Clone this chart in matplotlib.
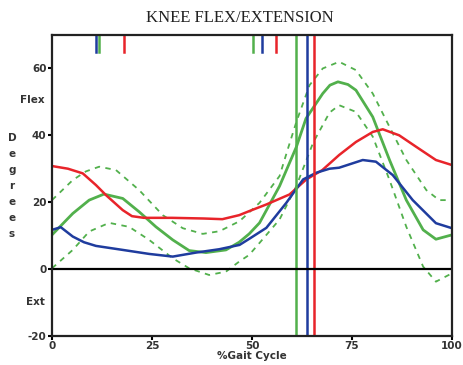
import matplotlib
matplotlib.use('Agg')
import matplotlib.pyplot as plt

plt.rcParams['axes.unicode_minus'] = False

# Colours of the three traces
RED = '#e8242a'
BLUE = '#1f3c9e'
GREEN = '#52b04c'

# Left side (red) knee angle over the gait cycle
red_x = [0, 4, 7.7, 11, 13.5, 17.7, 20, 23, 30, 38, 42.6, 46.8, 49.3, 53.6,
         59.4, 63.6, 67.6, 71.8, 76, 80.2, 82.7, 86.8, 91, 96, 100]
red_y = [30.8, 30, 28.6, 25.1, 22.1, 17.6, 15.8, 15.3, 15.3, 15.1, 14.9, 16.1, 17.3, 19.3,
         22.3, 26.8, 29.6, 34.1, 38, 41, 41.8, 40, 36.6, 32.6, 31.1]

# Right side (blue)
blue_x = [0, 2.2, 5.2, 8, 11, 17.7, 24.3, 30.2, 36, 41.8, 46.9, 49.3, 53.6, 58.6,
          62.8, 66.1, 69.4, 71.8, 77.7, 81, 85.2, 90.2, 96, 100]
blue_y = [11.7, 12.5, 9.7, 8, 6.9, 5.7, 4.5, 3.7, 4.9, 5.9, 7.2, 9, 12.3, 19.8,
          26.8, 28.8, 30, 30.3, 32.6, 32.1, 28.1, 20.6, 13.7, 12.2]

# Normal mean (green solid)
norm_x = [0, 5.2, 9.3, 13, 17.7, 21.8, 26, 30.2, 34.3, 38.5, 43.5, 46.8, 49.3, 51.9,
          56.9, 61.1, 63.5, 67.7, 69.5, 71.5, 74, 76, 80.2, 84.4, 88.6, 92.8, 96, 100]
norm_y = [10.2, 16.6, 20.6, 22.4, 21.1, 17.1, 12.6, 8.7, 5.5, 4.9, 5.7, 8, 10.5, 13.8,
          24.8, 36.5, 45, 52.5, 55, 56, 55.2, 53.5, 45.5, 32.6, 20.6, 11.7, 8.9, 10.2]

# Normal band, upper and lower (green dashed)
upper_x = [0, 5.2, 8.5, 11.8, 16, 21.8, 27.7, 32.7, 37.7, 41.9, 46.9, 51.9, 56.9, 59,
           61.1, 64.4, 67.7, 71.8, 76, 80.2, 84.4, 88.6, 93.6, 96.8, 100]
upper_y = [20.6, 26.6, 29.2, 30.6, 29.6, 23.6, 16.1, 12.2, 10.5, 11.3, 14.3, 19.8, 27.8, 36,
           44, 55, 60, 62, 59.5, 52.5, 42.5, 32.6, 23.6, 20.6, 20.6]
lower_x = [0, 5.2, 9.3, 14.3, 19.3, 24.3, 30.2, 34.3, 39.3, 43.5, 46.8, 49.3, 51.9,
           56.9, 61.1, 65.3, 69.4, 71.8, 76, 80.2, 84.4, 88.6, 92.8, 96, 100]
lower_y = [0.2, 5.7, 11.2, 13.8, 12.6, 8.7, 3.2, 0.2, -1.8, -0.8, 2.2, 4.2, 7.8,
           14.8, 24.8, 37.8, 46.8, 49, 47, 39.6, 26.6, 12.6, 0.7, -3.8, -1.3]

# Event markers: full-height lines (toe off) and short ticks at the top
toe_off = {'green': 61.1, 'blue': 63.7, 'red': 65.6}
top_ticks = [(10.9, BLUE), (11.7, GREEN), (18.0, RED),
             (50.2, GREEN), (52.5, BLUE), (56.1, RED)]

fig = plt.figure(figsize=(4.64, 3.65), dpi=100)
ax = fig.add_axes([0.112, 0.080, 0.862, 0.824])

ax.plot(upper_x, upper_y, color=GREEN, lw=1.3, ls=(0, (3, 3)))
ax.plot(lower_x, lower_y, color=GREEN, lw=1.3, ls=(0, (3, 3)))
ax.plot(norm_x, norm_y, color=GREEN, lw=2.0)
ax.plot(red_x, red_y, color=RED, lw=1.8)
ax.plot(blue_x, blue_y, color=BLUE, lw=1.8)

ax.axvline(toe_off['green'], color=GREEN, lw=1.8)
ax.axvline(toe_off['blue'], color=BLUE, lw=1.8)
ax.axvline(toe_off['red'], color=RED, lw=1.8)
for x, c in top_ticks:
    ax.plot([x, x], [65, 70], color=c, lw=1.8)

ax.axhline(0, color='black', lw=1.6)

ax.set_xlim(0, 100)
ax.set_ylim(-20, 70)
ax.set_xticks([0, 25, 50, 75, 100])
ax.set_yticks([-20, 0, 20, 40, 60])
ax.tick_params(direction='out', length=3, width=1.5, labelsize=7.5,
               labelcolor='#333333', pad=1)
for lab in ax.get_xticklabels() + ax.get_yticklabels():
    lab.set_fontweight('bold')
for s in ax.spines.values():
    s.set_linewidth(1.6)
    s.set_color('#222222')

fig.text(240 / 464, (365 - 18) / 365, 'KNEE FLEX/EXTENSION', ha='center', va='center',
         family='Liberation Serif', fontsize=12, color='#222222')
ax.set_xlabel('%Gait Cycle', fontsize=7.5, fontweight='bold', color='#333333',
              labelpad=0)

# side labels
fig.text(0.096, (365 - 100) / 365, 'Flex', ha='right', va='center',
         fontsize=7.5, fontweight='bold', color='#333333')
fig.text(0.096, (365 - 302) / 365, 'Ext', ha='right', va='center',
         fontsize=7.5, fontweight='bold', color='#333333')
for i, ch in enumerate('Degrees'):
    fig.text(12 / 464, (365 - 138 - i * 16) / 365, ch, ha='center', va='center',
             fontsize=7.5, fontweight='bold', color='#333333')

fig.savefig('out.png', dpi=100)
